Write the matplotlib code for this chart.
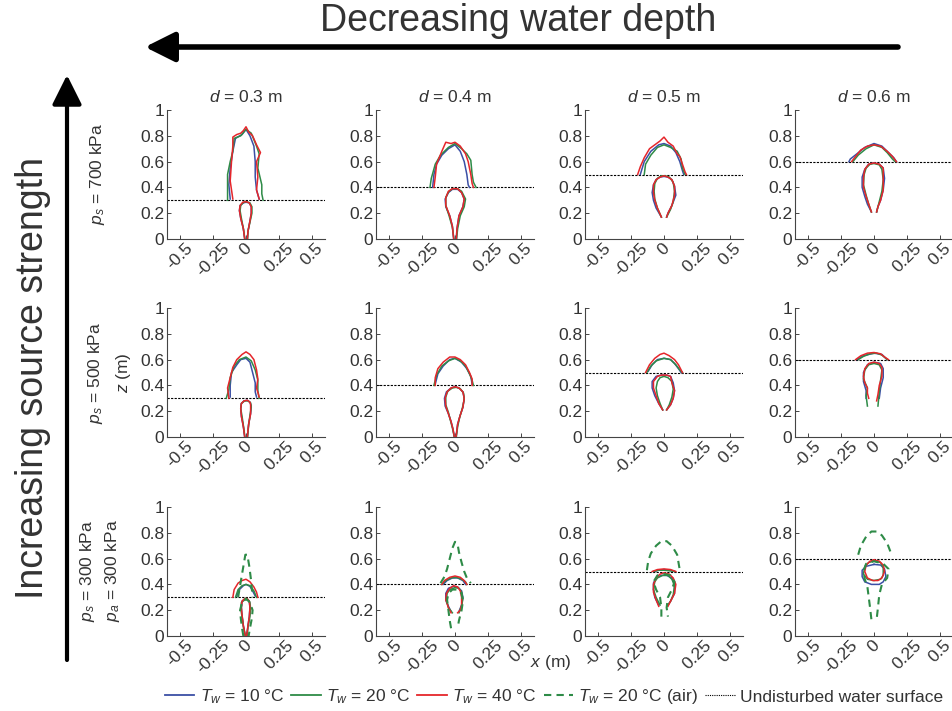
import matplotlib
matplotlib.use("Agg")
import matplotlib.pyplot as plt
from matplotlib.lines import Line2D

plt.rcParams['font.family'] = ['Liberation Sans', 'DejaVu Sans']
plt.rcParams['mathtext.fontset'] = 'custom'
plt.rcParams['mathtext.rm'] = 'Liberation Sans'
plt.rcParams['mathtext.it'] = 'Liberation Sans:italic'

# water depth per column, source pressure per row
depths = [0.3, 0.4, 0.5, 0.6]
row_labels = [[r'$p_s$ = 700 kPa'], [r'$p_s$ = 500 kPa'],
              [r'$p_s$ = 300 kPa', r'$p_a$ = 300 kPa']]
xtick_vals = [-0.5, -0.25, 0, 0.25, 0.5]
xtick_text = ['-0.5', '-0.25', '0', '0.25', '0.5']
ytick_vals = [0, 0.2, 0.4, 0.6, 0.8, 1]
ytick_text = ['0', '0.2', '0.4', '0.6', '0.8', '1']
series_names = [r'$T_w$ = 10 °C', r'$T_w$ = 20 °C', r'$T_w$ = 40 °C',
                r'$T_w$ = 20 °C (air)', 'Undisturbed water surface']

# contours above the free surface (x, z), panels in row order
dome_10 = [
    [(-0.12, 0.31), (-0.13, 0.42), (-0.12, 0.55), (-0.10, 0.68), (-0.08, 0.78), (-0.03, 0.81), (0.0, 0.85), (0.03, 0.80), (0.06, 0.72), (0.07, 0.60), (0.07, 0.48), (0.08, 0.38), (0.10, 0.31)],
    [(-0.17, 0.40), (-0.16, 0.50), (-0.14, 0.58), (-0.10, 0.65), (-0.05, 0.70), (0.0, 0.73), (0.04, 0.68), (0.07, 0.60), (0.09, 0.50), (0.10, 0.42), (0.11, 0.40)],
    [(-0.18, 0.50), (-0.15, 0.60), (-0.10, 0.68), (-0.04, 0.73), (0.0, 0.74), (0.05, 0.72), (0.09, 0.67), (0.12, 0.60), (0.14, 0.53), (0.15, 0.50)],
    [(-0.19, 0.60), (-0.18, 0.62), (-0.13, 0.66), (-0.07, 0.71), (0.0, 0.74), (0.06, 0.72), (0.11, 0.67), (0.15, 0.63), (0.17, 0.60)],
    [(-0.12, 0.31), (-0.12, 0.40), (-0.11, 0.50), (-0.07, 0.56), (-0.04, 0.60), (0.0, 0.61), (0.03, 0.58), (0.05, 0.50), (0.07, 0.42), (0.07, 0.35), (0.08, 0.31)],
    [(-0.15, 0.41), (-0.13, 0.49), (-0.09, 0.55), (-0.04, 0.60), (0.0, 0.61), (0.05, 0.58), (0.09, 0.53), (0.12, 0.47), (0.13, 0.41)],
    [(-0.12, 0.51), (-0.09, 0.56), (-0.05, 0.60), (0.0, 0.61), (0.05, 0.60), (0.08, 0.57), (0.11, 0.53), (0.13, 0.50)],
    [(-0.13, 0.60), (-0.08, 0.63), (0.0, 0.65), (0.06, 0.64), (0.10, 0.60)],
    [(-0.07, 0.31), (-0.05, 0.36), (-0.02, 0.39), (0.0, 0.40), (0.03, 0.385), (0.05, 0.35), (0.07, 0.31)],
    [(-0.09, 0.40), (-0.06, 0.43), (-0.02, 0.45), (0.02, 0.45), (0.06, 0.43), (0.08, 0.40)],
    [(-0.08, 0.50), (-0.04, 0.51), (0.0, 0.515), (0.04, 0.51), (0.08, 0.50)],
    [],
]
dome_20 = [
    [(-0.14, 0.30), (-0.14, 0.40), (-0.14, 0.50), (-0.12, 0.60), (-0.10, 0.68), (-0.09, 0.78), (-0.04, 0.80), (0.0, 0.85), (0.04, 0.82), (0.08, 0.72), (0.10, 0.66), (0.09, 0.55), (0.12, 0.42), (0.12, 0.35), (0.13, 0.30)],
    [(-0.19, 0.40), (-0.18, 0.47), (-0.15, 0.58), (-0.11, 0.65), (-0.05, 0.71), (0.0, 0.74), (0.05, 0.70), (0.09, 0.66), (0.12, 0.61), (0.13, 0.50), (0.14, 0.44), (0.16, 0.40)],
    [(-0.15, 0.50), (-0.14, 0.58), (-0.10, 0.65), (-0.05, 0.71), (0.0, 0.73), (0.05, 0.71), (0.10, 0.68), (0.13, 0.62), (0.14, 0.55), (0.16, 0.50)],
    [(-0.16, 0.60), (-0.12, 0.65), (-0.06, 0.70), (0.0, 0.73), (0.06, 0.71), (0.10, 0.67), (0.14, 0.62), (0.16, 0.60)],
    [(-0.15, 0.30), (-0.13, 0.37), (-0.12, 0.46), (-0.09, 0.55), (-0.05, 0.60), (0.0, 0.62), (0.04, 0.59), (0.07, 0.52), (0.09, 0.44), (0.09, 0.36), (0.10, 0.30)],
    [(-0.16, 0.40), (-0.14, 0.48), (-0.10, 0.55), (-0.05, 0.59), (0.0, 0.61), (0.04, 0.59), (0.08, 0.55), (0.11, 0.49), (0.13, 0.44), (0.14, 0.40)],
    [(-0.13, 0.50), (-0.10, 0.55), (-0.06, 0.59), (0.0, 0.61), (0.05, 0.60), (0.09, 0.56), (0.12, 0.52), (0.14, 0.50)],
    [(-0.12, 0.60), (-0.08, 0.625), (-0.03, 0.645), (0.02, 0.65), (0.06, 0.635), (0.09, 0.61), (0.10, 0.60)],
    [(-0.08, 0.30), (-0.06, 0.36), (-0.03, 0.39), (0.0, 0.40), (0.03, 0.39), (0.06, 0.35), (0.08, 0.30)],
    [(-0.10, 0.40), (-0.07, 0.43), (-0.03, 0.45), (0.01, 0.455), (0.05, 0.44), (0.08, 0.42), (0.09, 0.40)],
    [(-0.08, 0.50), (-0.04, 0.51), (0.0, 0.51), (0.05, 0.505), (0.08, 0.50)],
    [],
]
dome_40 = [
    [(-0.10, 0.31), (-0.12, 0.45), (-0.11, 0.60), (-0.10, 0.72), (-0.10, 0.79), (-0.07, 0.81), (-0.04, 0.82), (-0.02, 0.84), (0.0, 0.87), (0.02, 0.83), (0.05, 0.80), (0.08, 0.73), (0.11, 0.67), (0.08, 0.60), (0.09, 0.48), (0.08, 0.38), (0.10, 0.31)],
    [(-0.16, 0.40), (-0.15, 0.48), (-0.14, 0.58), (-0.10, 0.68), (-0.07, 0.75), (-0.03, 0.74), (0.0, 0.75), (0.04, 0.72), (0.08, 0.66), (0.10, 0.60), (0.12, 0.50), (0.13, 0.43), (0.14, 0.40)],
    [(-0.20, 0.50), (-0.18, 0.56), (-0.15, 0.63), (-0.11, 0.70), (-0.07, 0.73), (-0.03, 0.76), (0.0, 0.79), (0.03, 0.75), (0.07, 0.72), (0.10, 0.66), (0.12, 0.64), (0.14, 0.58), (0.16, 0.52), (0.17, 0.50)],
    [(-0.17, 0.60), (-0.14, 0.64), (-0.10, 0.69), (-0.05, 0.72), (0.0, 0.73), (0.05, 0.72), (0.10, 0.68), (0.14, 0.64), (0.17, 0.60)],
    [(-0.13, 0.30), (-0.14, 0.38), (-0.12, 0.46), (-0.10, 0.54), (-0.07, 0.60), (-0.03, 0.64), (0.0, 0.66), (0.03, 0.64), (0.06, 0.60), (0.08, 0.52), (0.09, 0.45), (0.08, 0.38), (0.10, 0.31)],
    [(-0.15, 0.40), (-0.15, 0.46), (-0.13, 0.53), (-0.09, 0.58), (-0.04, 0.62), (0.0, 0.62), (0.04, 0.60), (0.08, 0.56), (0.11, 0.50), (0.13, 0.45), (0.13, 0.40)],
    [(-0.14, 0.50), (-0.11, 0.56), (-0.07, 0.61), (-0.03, 0.64), (0.0, 0.65), (0.04, 0.63), (0.08, 0.60), (0.11, 0.56), (0.14, 0.50)],
    [(-0.14, 0.60), (-0.10, 0.63), (-0.05, 0.65), (0.0, 0.655), (0.05, 0.645), (0.08, 0.62), (0.11, 0.60)],
    [(-0.10, 0.30), (-0.09, 0.36), (-0.06, 0.41), (-0.03, 0.43), (0.0, 0.44), (0.03, 0.42), (0.06, 0.38), (0.08, 0.34), (0.09, 0.30)],
    [(-0.10, 0.40), (-0.08, 0.43), (-0.04, 0.455), (0.0, 0.465), (0.04, 0.455), (0.07, 0.43), (0.09, 0.40)],
    [(-0.09, 0.50), (-0.05, 0.515), (0.0, 0.52), (0.05, 0.515), (0.09, 0.50)],
    [],
]

# contours below the free surface
bubble_10 = [
    [(-0.01, 0.0), (-0.02, 0.08), (-0.04, 0.16), (-0.05, 0.22), (-0.045, 0.26), (-0.02, 0.28), (0.0, 0.285), (0.025, 0.28), (0.04, 0.25), (0.04, 0.20), (0.03, 0.14), (0.015, 0.06), (0.01, 0.0)],
    [(-0.01, 0.0), (-0.02, 0.10), (-0.04, 0.18), (-0.07, 0.25), (-0.075, 0.31), (-0.05, 0.36), (-0.02, 0.385), (0.02, 0.385), (0.05, 0.36), (0.07, 0.31), (0.06, 0.25), (0.03, 0.18), (0.015, 0.08), (0.01, 0.0)],
    [(-0.02, 0.17), (-0.06, 0.24), (-0.08, 0.30), (-0.09, 0.36), (-0.08, 0.42), (-0.06, 0.46), (-0.03, 0.48), (0.0, 0.485), (0.03, 0.48), (0.06, 0.46), (0.08, 0.41), (0.09, 0.34), (0.06, 0.26), (0.03, 0.20), (0.02, 0.17)],
    [(-0.02, 0.21), (-0.05, 0.27), (-0.07, 0.33), (-0.09, 0.40), (-0.09, 0.48), (-0.07, 0.54), (-0.04, 0.58), (0.0, 0.59), (0.04, 0.58), (0.07, 0.55), (0.08, 0.47), (0.07, 0.38), (0.05, 0.30), (0.03, 0.25), (0.02, 0.21)],
    [(-0.01, 0.0), (-0.02, 0.08), (-0.035, 0.16), (-0.04, 0.22), (-0.035, 0.26), (-0.015, 0.28), (0.01, 0.285), (0.03, 0.27), (0.04, 0.24), (0.035, 0.18), (0.02, 0.10), (0.01, 0.0)],
    [(-0.005, 0.0), (-0.015, 0.06), (-0.03, 0.12), (-0.05, 0.18), (-0.075, 0.24), (-0.08, 0.30), (-0.065, 0.35), (-0.03, 0.38), (0.0, 0.39), (0.03, 0.38), (0.06, 0.35), (0.07, 0.30), (0.06, 0.23), (0.04, 0.17), (0.02, 0.10), (0.008, 0.0)],
    [(-0.01, 0.21), (-0.04, 0.26), (-0.07, 0.32), (-0.09, 0.38), (-0.09, 0.43), (-0.06, 0.47), (-0.02, 0.48), (0.02, 0.48), (0.05, 0.47), (0.07, 0.42), (0.08, 0.36), (0.07, 0.30), (0.05, 0.25), (0.02, 0.21)],
    [(-0.06, 0.30), (-0.06, 0.36), (-0.08, 0.43), (-0.08, 0.50), (-0.05, 0.56), (0.0, 0.58), (0.05, 0.57), (0.07, 0.53), (0.07, 0.46), (0.05, 0.38), (0.04, 0.30)],
    [(-0.005, 0.0), (-0.02, 0.08), (-0.03, 0.16), (-0.035, 0.22), (-0.03, 0.27), (-0.01, 0.285), (0.01, 0.285), (0.025, 0.27), (0.03, 0.22), (0.025, 0.15), (0.015, 0.08), (0.005, 0.0)],
    [(-0.03, 0.19), (-0.05, 0.23), (-0.07, 0.28), (-0.07, 0.33), (-0.05, 0.37), (-0.01, 0.385), (0.02, 0.38), (0.05, 0.35), (0.06, 0.30), (0.05, 0.24), (0.03, 0.19)],
    [(-0.04, 0.24), (-0.07, 0.30), (-0.08, 0.36), (-0.08, 0.41), (-0.06, 0.45), (-0.02, 0.47), (0.02, 0.47), (0.06, 0.45), (0.08, 0.40), (0.08, 0.33), (0.05, 0.27), (0.03, 0.24)],
    [(0.0, 0.555), (0.05, 0.55), (0.08, 0.52), (0.09, 0.46), (0.07, 0.42), (0.04, 0.40), (-0.02, 0.40), (-0.07, 0.42), (-0.09, 0.46), (-0.09, 0.51), (-0.06, 0.54), (0.0, 0.555)],
]
bubble_20 = [
    [(-0.008, 0.0), (-0.02, 0.08), (-0.035, 0.16), (-0.045, 0.22), (-0.04, 0.26), (-0.02, 0.283), (0.0, 0.29), (0.03, 0.28), (0.045, 0.25), (0.045, 0.20), (0.03, 0.13), (0.015, 0.06), (0.012, 0.0)],
    [(-0.008, 0.0), (-0.02, 0.09), (-0.045, 0.18), (-0.07, 0.26), (-0.07, 0.32), (-0.05, 0.365), (-0.02, 0.39), (0.02, 0.39), (0.05, 0.37), (0.08, 0.31), (0.07, 0.25), (0.04, 0.18), (0.02, 0.08), (0.012, 0.0)],
    [(-0.02, 0.17), (-0.05, 0.24), (-0.07, 0.31), (-0.075, 0.37), (-0.07, 0.43), (-0.05, 0.47), (-0.02, 0.49), (0.01, 0.49), (0.04, 0.48), (0.07, 0.44), (0.08, 0.37), (0.07, 0.29), (0.05, 0.23), (0.02, 0.17)],
    [(-0.02, 0.21), (-0.04, 0.27), (-0.06, 0.34), (-0.08, 0.42), (-0.075, 0.50), (-0.06, 0.55), (-0.03, 0.58), (0.0, 0.585), (0.04, 0.575), (0.06, 0.54), (0.07, 0.46), (0.06, 0.37), (0.04, 0.29), (0.02, 0.21)],
    [(-0.008, 0.0), (-0.02, 0.09), (-0.03, 0.16), (-0.04, 0.22), (-0.035, 0.26), (-0.01, 0.28), (0.015, 0.28), (0.035, 0.265), (0.04, 0.23), (0.03, 0.17), (0.02, 0.09), (0.012, 0.0)],
    [(-0.005, 0.0), (-0.02, 0.07), (-0.035, 0.13), (-0.05, 0.19), (-0.07, 0.25), (-0.07, 0.31), (-0.055, 0.355), (-0.02, 0.38), (0.01, 0.385), (0.04, 0.375), (0.065, 0.34), (0.07, 0.29), (0.055, 0.22), (0.035, 0.15), (0.02, 0.08), (0.01, 0.0)],
    [(-0.01, 0.21), (-0.03, 0.26), (-0.05, 0.32), (-0.06, 0.38), (-0.05, 0.43), (-0.03, 0.46), (0.0, 0.47), (0.03, 0.46), (0.06, 0.43), (0.07, 0.37), (0.06, 0.31), (0.04, 0.25), (0.02, 0.21)],
    [(-0.05, 0.24), (-0.06, 0.32), (-0.05, 0.38), (-0.08, 0.45), (-0.07, 0.52), (-0.04, 0.56), (0.0, 0.57), (0.04, 0.56), (0.06, 0.52), (0.05, 0.44), (0.04, 0.35), (0.03, 0.24)],
    [(-0.005, 0.0), (-0.02, 0.07), (-0.03, 0.15), (-0.04, 0.21), (-0.035, 0.26), (-0.01, 0.28), (0.015, 0.28), (0.03, 0.26), (0.035, 0.21), (0.03, 0.15), (0.015, 0.07), (0.008, 0.0)],
    [(-0.02, 0.18), (-0.05, 0.22), (-0.065, 0.28), (-0.06, 0.33), (-0.04, 0.36), (0.0, 0.375), (0.03, 0.37), (0.05, 0.34), (0.06, 0.29), (0.05, 0.23), (0.03, 0.18)],
    [(-0.03, 0.24), (-0.06, 0.30), (-0.08, 0.36), (-0.07, 0.42), (-0.05, 0.45), (-0.01, 0.47), (0.03, 0.47), (0.06, 0.44), (0.08, 0.39), (0.07, 0.32), (0.05, 0.27), (0.03, 0.24)],
    [(0.0, 0.58), (0.05, 0.57), (0.07, 0.53), (0.07, 0.47), (0.05, 0.44), (0.0, 0.43), (-0.05, 0.44), (-0.08, 0.48), (-0.07, 0.54), (-0.04, 0.57), (0.0, 0.58)],
]
bubble_40 = [
    [(-0.01, 0.0), (-0.02, 0.08), (-0.04, 0.16), (-0.05, 0.22), (-0.045, 0.26), (-0.025, 0.285), (0.0, 0.29), (0.025, 0.28), (0.04, 0.25), (0.04, 0.20), (0.03, 0.14), (0.015, 0.06), (0.01, 0.0)],
    [(-0.01, 0.0), (-0.02, 0.10), (-0.04, 0.18), (-0.07, 0.26), (-0.07, 0.32), (-0.05, 0.37), (-0.02, 0.39), (0.02, 0.39), (0.05, 0.36), (0.07, 0.31), (0.06, 0.25), (0.03, 0.18), (0.015, 0.08), (0.01, 0.0)],
    [(-0.02, 0.17), (-0.05, 0.24), (-0.07, 0.30), (-0.08, 0.36), (-0.08, 0.42), (-0.06, 0.46), (-0.03, 0.48), (0.0, 0.49), (0.03, 0.48), (0.06, 0.46), (0.08, 0.41), (0.08, 0.34), (0.06, 0.26), (0.03, 0.20), (0.02, 0.17)],
    [(-0.02, 0.21), (-0.04, 0.27), (-0.06, 0.33), (-0.08, 0.40), (-0.08, 0.48), (-0.07, 0.54), (-0.04, 0.58), (0.0, 0.59), (0.04, 0.58), (0.07, 0.55), (0.07, 0.47), (0.07, 0.38), (0.05, 0.30), (0.03, 0.25), (0.02, 0.21)],
    [(-0.01, 0.0), (-0.02, 0.08), (-0.035, 0.16), (-0.04, 0.22), (-0.035, 0.26), (-0.015, 0.28), (0.01, 0.285), (0.03, 0.27), (0.035, 0.25), (0.035, 0.18), (0.02, 0.10), (0.01, 0.0)],
    [(-0.005, 0.0), (-0.015, 0.06), (-0.03, 0.12), (-0.05, 0.18), (-0.07, 0.24), (-0.075, 0.30), (-0.06, 0.35), (-0.03, 0.38), (0.0, 0.39), (0.03, 0.38), (0.06, 0.35), (0.07, 0.30), (0.06, 0.23), (0.04, 0.17), (0.02, 0.10), (0.008, 0.0)],
    [(-0.01, 0.21), (-0.04, 0.26), (-0.06, 0.32), (-0.08, 0.38), (-0.08, 0.43), (-0.05, 0.47), (-0.02, 0.48), (0.02, 0.48), (0.05, 0.47), (0.06, 0.42), (0.08, 0.36), (0.07, 0.30), (0.05, 0.25), (0.02, 0.21)],
    [(-0.04, 0.30), (-0.05, 0.34), (-0.05, 0.38), (-0.07, 0.42), (-0.08, 0.47), (-0.07, 0.53), (-0.04, 0.57), (0.0, 0.58), (0.04, 0.57), (0.06, 0.54), (0.06, 0.47), (0.04, 0.40), (0.03, 0.33), (0.02, 0.28)],
    [(-0.005, 0.0), (-0.02, 0.08), (-0.03, 0.16), (-0.035, 0.22), (-0.03, 0.27), (-0.01, 0.29), (0.01, 0.29), (0.025, 0.27), (0.03, 0.22), (0.025, 0.15), (0.015, 0.08), (0.005, 0.0)],
    [(-0.03, 0.18), (-0.05, 0.22), (-0.07, 0.28), (-0.065, 0.33), (-0.04, 0.37), (-0.01, 0.39), (0.02, 0.38), (0.04, 0.35), (0.05, 0.30), (0.05, 0.24), (0.04, 0.20), (0.02, 0.18)],
    [(-0.04, 0.23), (-0.06, 0.28), (-0.08, 0.34), (-0.08, 0.40), (-0.06, 0.45), (-0.03, 0.48), (0.0, 0.49), (0.04, 0.48), (0.07, 0.45), (0.09, 0.40), (0.08, 0.33), (0.05, 0.27), (0.03, 0.23)],
    [(0.0, 0.59), (0.04, 0.58), (0.07, 0.55), (0.08, 0.50), (0.06, 0.45), (0.03, 0.43), (-0.01, 0.43), (-0.05, 0.45), (-0.07, 0.50), (-0.06, 0.55), (-0.03, 0.58), (0.0, 0.59)],
]

# air cavity runs (bottom row only)
air_dome = [
    [(-0.06, 0.30), (-0.04, 0.42), (-0.02, 0.54), (-0.005, 0.63), (0.01, 0.63), (0.025, 0.54), (0.04, 0.42), (0.05, 0.30)],
    [(-0.11, 0.41), (-0.08, 0.46), (-0.06, 0.52), (-0.04, 0.60), (-0.02, 0.68), (0.0, 0.73), (0.02, 0.71), (0.03, 0.65), (0.05, 0.57), (0.07, 0.50), (0.09, 0.45), (0.12, 0.41)],
    [(-0.13, 0.51), (-0.12, 0.58), (-0.10, 0.64), (-0.06, 0.70), (-0.02, 0.735), (0.02, 0.735), (0.06, 0.70), (0.10, 0.63), (0.11, 0.57), (0.12, 0.51)],
    [(-0.12, 0.63), (-0.10, 0.70), (-0.06, 0.77), (-0.02, 0.81), (0.02, 0.81), (0.06, 0.78), (0.10, 0.72), (0.13, 0.64)],
]
air_bubble = [
    [(-0.02, 0.0), (-0.03, 0.06), (-0.04, 0.14), (-0.045, 0.20), (-0.03, 0.26), (0.0, 0.29), (0.03, 0.26), (0.05, 0.20), (0.045, 0.14), (0.03, 0.06), (0.02, 0.0)],
    [(-0.03, 0.06), (-0.04, 0.12), (-0.05, 0.20), (-0.06, 0.28), (-0.05, 0.33), (-0.02, 0.36), (0.02, 0.36), (0.05, 0.33), (0.06, 0.27), (0.05, 0.20), (0.03, 0.12), (0.02, 0.06)],
    [(-0.02, 0.15), (-0.02, 0.22), (-0.03, 0.30), (-0.06, 0.36), (-0.08, 0.42), (-0.05, 0.47), (0.0, 0.48), (0.05, 0.47), (0.08, 0.42), (0.06, 0.36), (0.03, 0.30), (0.02, 0.22), (0.03, 0.15)],
    [(-0.02, 0.13), (-0.03, 0.22), (-0.04, 0.30), (-0.05, 0.38), (-0.07, 0.44), (-0.08, 0.50), (-0.06, 0.56), (0.0, 0.58), (0.07, 0.56), (0.11, 0.52), (0.10, 0.45), (0.06, 0.40), (0.04, 0.32), (0.03, 0.22), (0.02, 0.13)],
]

c_blue = '#3b4fa5'
c_green = '#2e8b47'
c_red = '#e5262b'
txt = '#333333'


def draw(ax, pts, color, ls='-', lw=1.1):
    if not pts:
        return
    xs, zs = zip(*pts)
    ax.plot(xs, zs, color=color, ls=ls, lw=lw)


W, H = 953, 711
fig = plt.figure(figsize=(W / 100, H / 100), dpi=100)

col_left = [167, 376, 585, 795]
row_top = [110, 308, 507]
ax_w, ax_h = 158, 129

for r in range(3):
    for c in range(4):
        k = r * 4 + c
        ax = fig.add_axes([col_left[c] / W, 1 - (row_top[r] + ax_h) / H, ax_w / W, ax_h / H])
        ax.set_xlim(-0.6, 0.6)
        ax.set_ylim(0, 1)
        for s in ['top', 'right']:
            ax.spines[s].set_visible(False)
        for s in ['left', 'bottom']:
            ax.spines[s].set_color('#444444')
            ax.spines[s].set_linewidth(0.8)
        ax.set_xticks(xtick_vals)
        ax.set_xticklabels(xtick_text, rotation=45, ha='center')
        ax.set_yticks(ytick_vals)
        ax.set_yticklabels(ytick_text)
        ax.tick_params(direction='in', length=3, width=0.7, color='#444444',
                       labelsize=12.5, labelcolor=txt, pad=2)
        ax.tick_params(axis='x', pad=1)

        ax.plot([-0.6, 0.6], [depths[c], depths[c]], color='black', lw=0.8, ls=(0, (2, 1.2)))

        draw(ax, dome_10[k], c_blue)
        draw(ax, bubble_10[k], c_blue)
        draw(ax, dome_20[k], c_green)
        draw(ax, bubble_20[k], c_green)
        draw(ax, dome_40[k], c_red)
        draw(ax, bubble_40[k], c_red)
        if r == 2:
            draw(ax, air_dome[c], c_green, ls=(0, (3.5, 2.5)), lw=1.5)
            draw(ax, air_bubble[c], c_green, ls=(0, (3.5, 2.5)), lw=1.5)

        if r == 0:
            ax.set_title(r'$d$ = %.1f m' % depths[c], fontsize=12.5, color=txt, pad=6)

# row labels
fig.text(98 / W, 1 - 174 / H, row_labels[0][0], rotation=90, ha='center', va='center', fontsize=12.5, color=txt)
fig.text(96 / W, 1 - 373 / H, row_labels[1][0], rotation=90, ha='center', va='center', fontsize=12.5, color=txt)
fig.text(124 / W, 1 - 373 / H, r'$z$ (m)', rotation=90, ha='center', va='center', fontsize=12.5, color=txt)
fig.text(88 / W, 1 - 571 / H, row_labels[2][0], rotation=90, ha='center', va='center', fontsize=12.5, color=txt)
fig.text(113 / W, 1 - 571 / H, row_labels[2][1], rotation=90, ha='center', va='center', fontsize=12.5, color=txt)
fig.text(530 / W, 1 - 662 / H, r'$x$ (m)', ha='left', va='center', fontsize=12.5, color=txt)

# big annotations
fig.text(518 / W, 1 - 21 / H, 'Decreasing water depth', ha='center', va='center', fontsize=27, color=txt)
fig.text(33 / W, 1 - 378 / H, 'Increasing source strength', rotation=90, ha='center', va='center', fontsize=27, color=txt)
fig.patches.append(matplotlib.patches.FancyArrowPatch(
    (898, H - 47), (145, H - 47), transform=None, arrowstyle='-|>,head_length=0.9,head_width=0.45',
    mutation_scale=20, lw=4, color='black', shrinkA=0, shrinkB=0))
fig.patches.append(matplotlib.patches.FancyArrowPatch(
    (67, H - 660), (67, H - 75), transform=None, arrowstyle='-|>,head_length=0.9,head_width=0.45',
    mutation_scale=20, lw=3, color='black', shrinkA=0, shrinkB=0))

handles = [
    Line2D([], [], color=c_blue, lw=1.3),
    Line2D([], [], color=c_green, lw=1.3),
    Line2D([], [], color=c_red, lw=1.3),
    Line2D([], [], color=c_green, lw=1.5, ls=(0, (3.5, 2.5))),
    Line2D([], [], color='black', lw=0.8, ls=(0, (1, 1))),
]
fig.legend(handles, series_names, loc='center', bbox_to_anchor=(554 / W, 1 - 697 / H),
           ncol=5, frameon=False, fontsize=12.5, handlelength=1.7, handletextpad=0.3,
           columnspacing=0.4, labelcolor=txt)

fig.savefig('out.png', dpi=100)
